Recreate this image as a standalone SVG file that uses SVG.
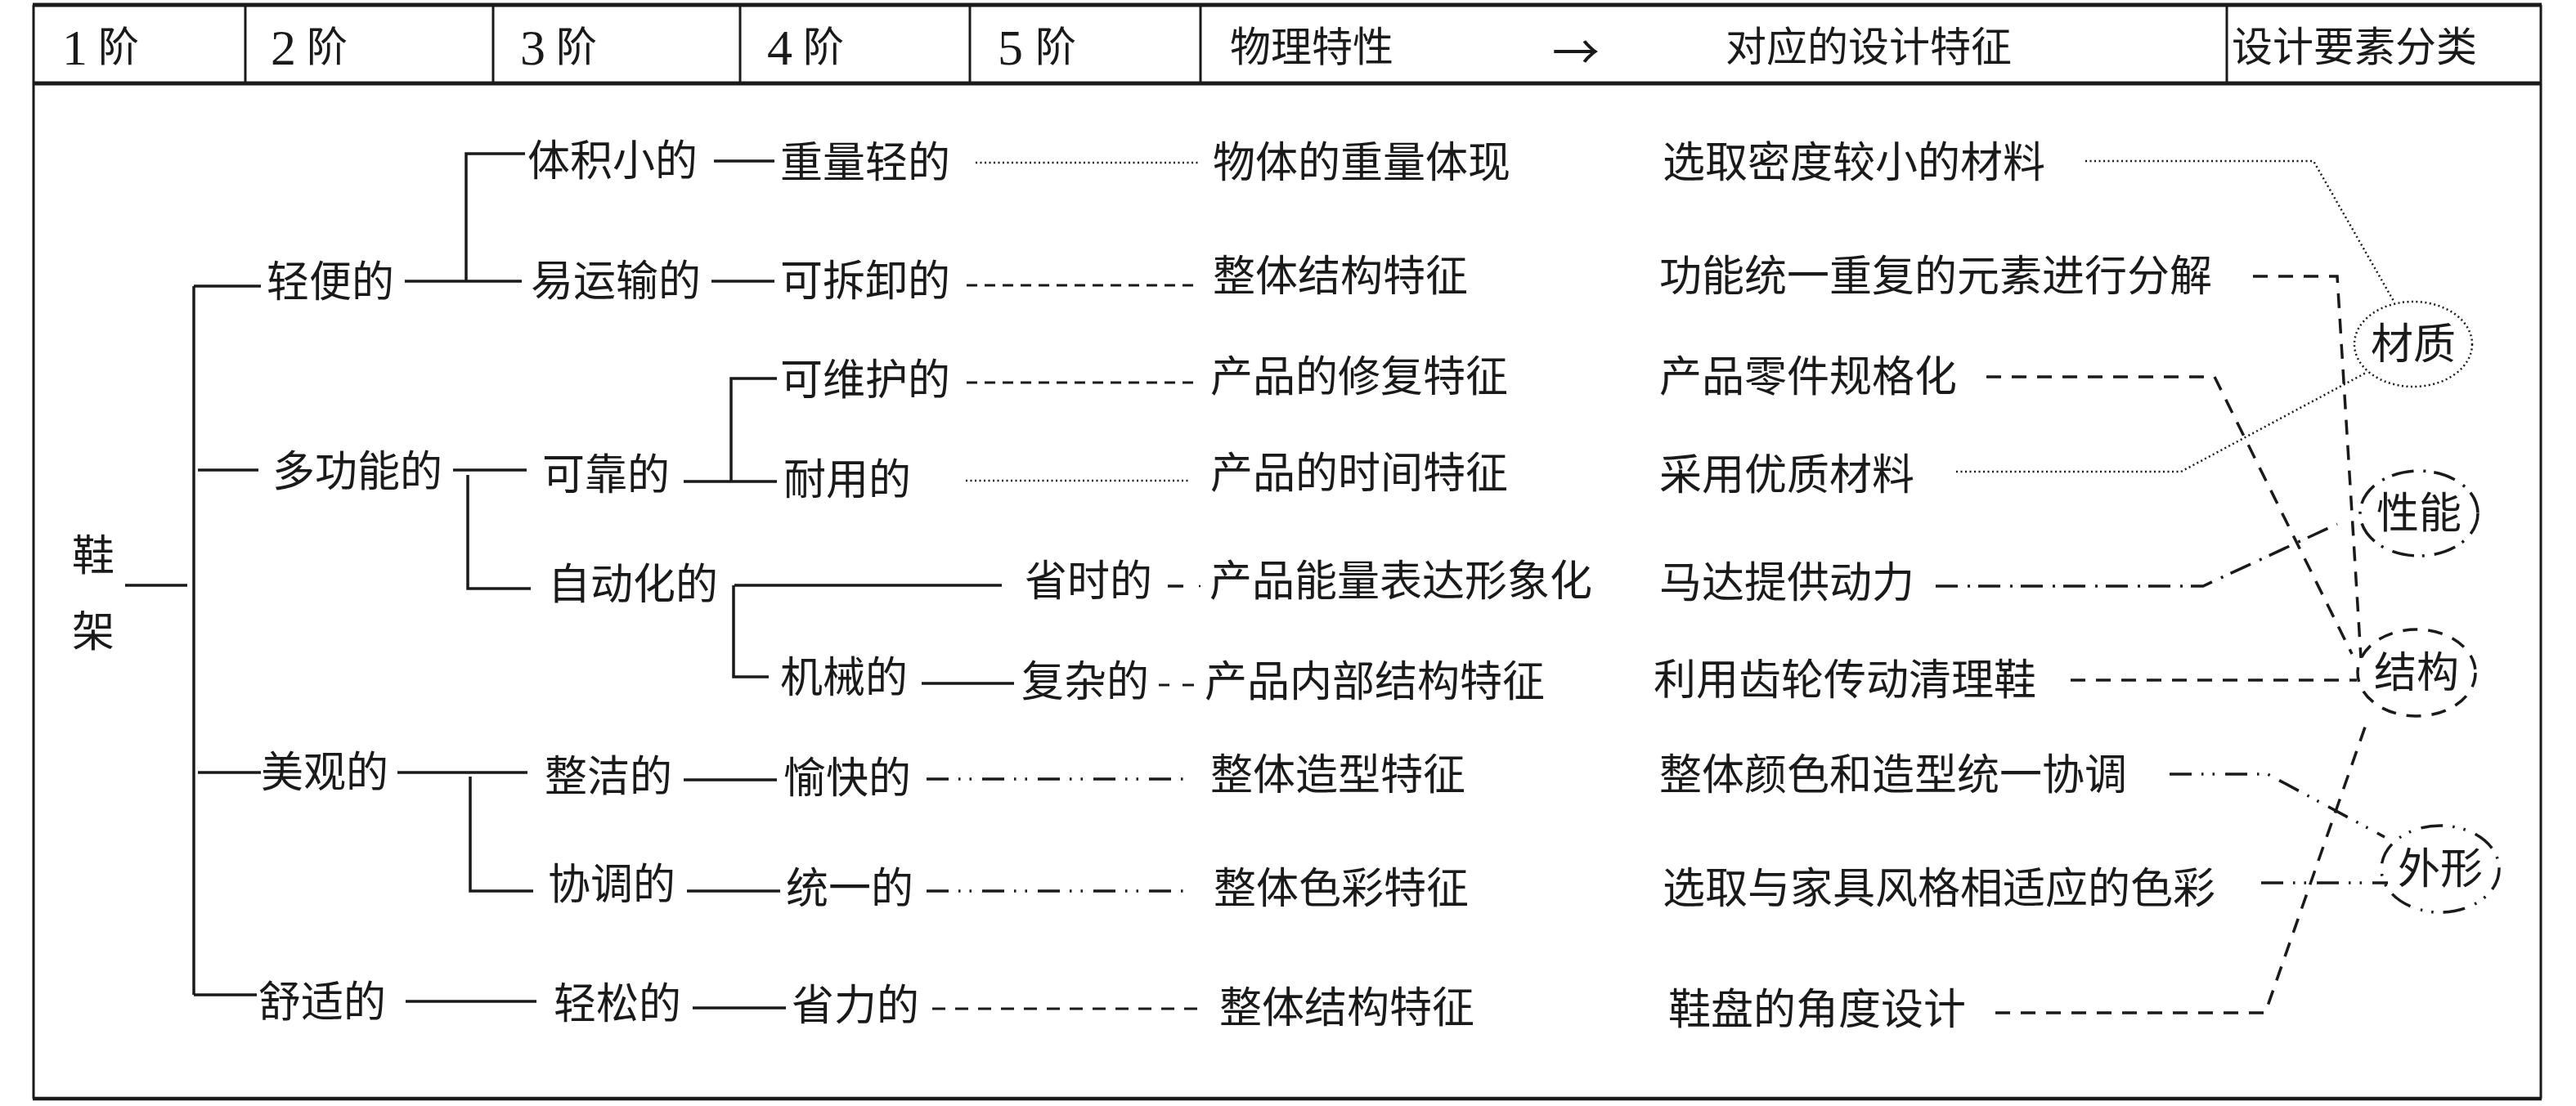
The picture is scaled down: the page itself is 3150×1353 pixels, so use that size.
<svg xmlns="http://www.w3.org/2000/svg" width="3150" height="1353" viewBox="0 0 3150 1353">
<style>
.t{font-family:'Liberation Serif','Noto Sans CJK SC',serif;font-size:52px;fill:#1a1a1a;dominant-baseline:central}
.h{font-size:50px}
.num{font-size:62px}
.arr{font-family:'Noto Sans CJK SC',sans-serif;font-size:58px}
.ctr{text-anchor:middle}
.s{stroke:#1a1a1a;stroke-width:3.5;fill:none}
.thin{stroke-width:3}
.dot{stroke-dasharray:2 3.5;stroke-width:2.5}
.dash{stroke-dasharray:13 9}
.dash2{stroke-dasharray:18 13}
.dash3{stroke-dasharray:16 12}
.dd{stroke-dasharray:27 12 3 10}
.ddd{stroke-dasharray:27 12 2.5 11 2.5 13}
</style>
<rect width="3150" height="1353" fill="#fff"/>
<g id="frame">
<line class="s" x1="40" y1="6" x2="3108" y2="6" style="stroke-width:5"/>
<line class="s" x1="40" y1="102" x2="3108" y2="102" style="stroke-width:5"/>
<line class="s" x1="40" y1="1344" x2="3108" y2="1344" style="stroke-width:4.5"/>
<line class="s thin" x1="41" y1="6" x2="41" y2="1344"/>
<line class="s thin" x1="3107" y1="6" x2="3107" y2="1344"/>
<line class="s thin" x1="300" y1="6" x2="300" y2="102"/>
<line class="s thin" x1="603" y1="6" x2="603" y2="102"/>
<line class="s thin" x1="905" y1="6" x2="905" y2="102"/>
<line class="s thin" x1="1186" y1="6" x2="1186" y2="102"/>
<line class="s thin" x1="1468" y1="6" x2="1468" y2="102"/>
<line class="s thin" x1="2723" y1="6" x2="2723" y2="102"/>
</g>
<g id="header">
<text class="t h" x="76" y="58"><tspan class="num">1</tspan><tspan x="120">阶</tspan></text>
<text class="t h" x="331" y="58"><tspan class="num">2</tspan><tspan x="375">阶</tspan></text>
<text class="t h" x="636" y="58"><tspan class="num">3</tspan><tspan x="680">阶</tspan></text>
<text class="t h" x="938" y="58"><tspan class="num">4</tspan><tspan x="982">阶</tspan></text>
<text class="t h" x="1220" y="58"><tspan class="num">5</tspan><tspan x="1266">阶</tspan></text>
<text class="t h" x="1504" y="58">物理特性</text>
<text class="t arr" x="1898" y="60">→</text>
<text class="t h" x="2110" y="58">对应的设计特征</text>
<text class="t h" x="2729" y="58">设计要素分类</text>
</g>
<g id="connectors">
<line class="s" x1="153" y1="716" x2="229" y2="716"/>
<line class="s" x1="237" y1="350" x2="237" y2="1217"/>
<line class="s" x1="237" y1="350" x2="319" y2="350"/>
<line class="s" x1="242" y1="575" x2="316" y2="575"/>
<line class="s" x1="242" y1="945" x2="319" y2="945"/>
<line class="s" x1="237" y1="1217" x2="314" y2="1217"/>
<polyline class="s" points="642,188 570,188 570,344"/>
<line class="s" x1="495" y1="344" x2="638" y2="344"/>
<line class="s" x1="873" y1="197" x2="947" y2="197"/>
<line class="s" x1="870" y1="344" x2="947" y2="344"/>
<line class="s" x1="554" y1="575" x2="644" y2="575"/>
<polyline class="s" points="572,581 572,720 649,720"/>
<line class="s" x1="836" y1="589" x2="950" y2="589"/>
<polyline class="s" points="950,463 894,463 894,589"/>
<line class="s" x1="898" y1="716" x2="1225" y2="716"/>
<polyline class="s" points="897,716 897,828 940,828"/>
<line class="s" x1="1127" y1="836" x2="1240" y2="836"/>
<line class="s" x1="486" y1="945" x2="645" y2="945"/>
<polyline class="s" points="575,950 575,1090 652,1090"/>
<line class="s" x1="836" y1="954" x2="950" y2="954"/>
<line class="s" x1="840" y1="1090" x2="954" y2="1090"/>
<line class="s" x1="496" y1="1225" x2="656" y2="1225"/>
<line class="s" x1="847" y1="1233" x2="961" y2="1233"/>
<line class="s dot" x1="1193" y1="199" x2="1466" y2="199"/>
<line class="s thin dash" x1="1182" y1="349" x2="1463" y2="349"/>
<line class="s thin dash" x1="1182" y1="468" x2="1463" y2="468"/>
<line class="s dot" x1="1181" y1="588" x2="1455" y2="588"/>
<line class="s" x1="1428" y1="717" x2="1447" y2="717"/>
<line class="s dot" x1="1466" y1="717" x2="1468" y2="717"/>
<line class="s thin" x1="1417" y1="838" x2="1430" y2="838"/>
<line class="s thin" x1="1446" y1="838" x2="1460" y2="838"/>
<line class="s ddd" x1="1133" y1="953" x2="1450" y2="953"/>
<line class="s ddd" x1="1133" y1="1090" x2="1450" y2="1090"/>
<line class="s thin dash3" x1="1140" y1="1234" x2="1473" y2="1234"/>
<polyline class="s dot" points="2550,197 2829,197 2928,370"/>
<polyline class="s dot" points="2392,577 2667,577 2895,455"/>
<polyline class="s dd" points="2367,717 2694,717 2858,641"/>
<polyline class="s dash2" points="2755,338 2858,338 2887,805"/>
<polyline class="s dash2" points="2429,461 2708,461 2876,800"/>
<line class="s dash2" x1="2532" y1="832" x2="2882" y2="832"/>
<polyline class="s ddd" points="2653,947 2773,947 2916,1024"/>
<line class="s ddd" x1="2765" y1="1080" x2="2920" y2="1080"/>
<polyline class="s dash2" points="2440,1239 2770,1239 2895,881"/>
</g>
<g id="n-root">
<text class="t" x="88" y="680">鞋</text>
<text class="t" x="88" y="773">架</text>
</g>
<g id="level2">
<text class="t" x="326" y="345">轻便的</text>
<text class="t" x="333" y="577">多功能的</text>
<text class="t" x="319" y="945">美观的</text>
<text class="t" x="316" y="1226">舒适的</text>
</g>
<g id="level3">
<text class="t" x="645" y="197">体积小的</text>
<text class="t" x="649" y="344">易运输的</text>
<text class="t" x="663" y="581">可靠的</text>
<text class="t" x="670" y="715">自动化的</text>
<text class="t" x="666" y="950">整洁的</text>
<text class="t" x="670" y="1082">协调的</text>
<text class="t" x="677" y="1228">轻松的</text>
</g>
<g id="level4">
<text class="t" x="954" y="199">重量轻的</text>
<text class="t" x="954" y="344">可拆卸的</text>
<text class="t" x="954" y="465">可维护的</text>
<text class="t" x="958" y="587">耐用的</text>
<text class="t" x="954" y="829">机械的</text>
<text class="t" x="958" y="952">愉快的</text>
<text class="t" x="961" y="1087">统一的</text>
<text class="t" x="968" y="1230">省力的</text>
</g>
<g id="level5">
<text class="t" x="1253" y="711">省时的</text>
<text class="t" x="1249" y="834">复杂的</text>
</g>
<g id="physical">
<text class="t" x="1483" y="199">物体的重量体现</text>
<text class="t" x="1483" y="338">整体结构特征</text>
<text class="t" x="1480" y="461">产品的修复特征</text>
<text class="t" x="1480" y="579">产品的时间特征</text>
<text class="t" x="1479" y="711">产品能量表达形象化</text>
<text class="t" x="1473" y="834">产品内部结构特征</text>
<text class="t" x="1480" y="948">整体造型特征</text>
<text class="t" x="1484" y="1087">整体色彩特征</text>
<text class="t" x="1491" y="1233">整体结构特征</text>
</g>
<g id="design">
<text class="t" x="2033" y="199">选取密度较小的材料</text>
<text class="t" x="2029" y="338">功能统一重复的元素进行分解</text>
<text class="t" x="2029" y="461">产品零件规格化</text>
<text class="t" x="2029" y="581">采用优质材料</text>
<text class="t" x="2029" y="713">马达提供动力</text>
<text class="t" x="2022" y="832">利用齿轮传动清理鞋</text>
<text class="t" x="2029" y="948">整体颜色和造型统一协调</text>
<text class="t" x="2033" y="1087">选取与家具风格相适应的色彩</text>
<text class="t" x="2040" y="1235">鞋盘的角度设计</text>
</g>
<g id="n-material">
<ellipse class="s dot" cx="2951" cy="421" rx="72" ry="52"/>
<text class="t ctr" x="2951" y="421">材质</text>
</g>
<g id="n-performance">
<ellipse class="s dd" cx="2958" cy="628" rx="72" ry="52"/>
<text class="t ctr" x="2958" y="628">性能</text>
</g>
<g id="n-structure">
<ellipse class="s dash2" cx="2955" cy="823" rx="72" ry="53"/>
<text class="t ctr" x="2955" y="823">结构</text>
</g>
<g id="n-shape">
<ellipse class="s ddd" cx="2984" cy="1063" rx="72" ry="53"/>
<text class="t ctr" x="2984" y="1063">外形</text>
</g>
</svg>
